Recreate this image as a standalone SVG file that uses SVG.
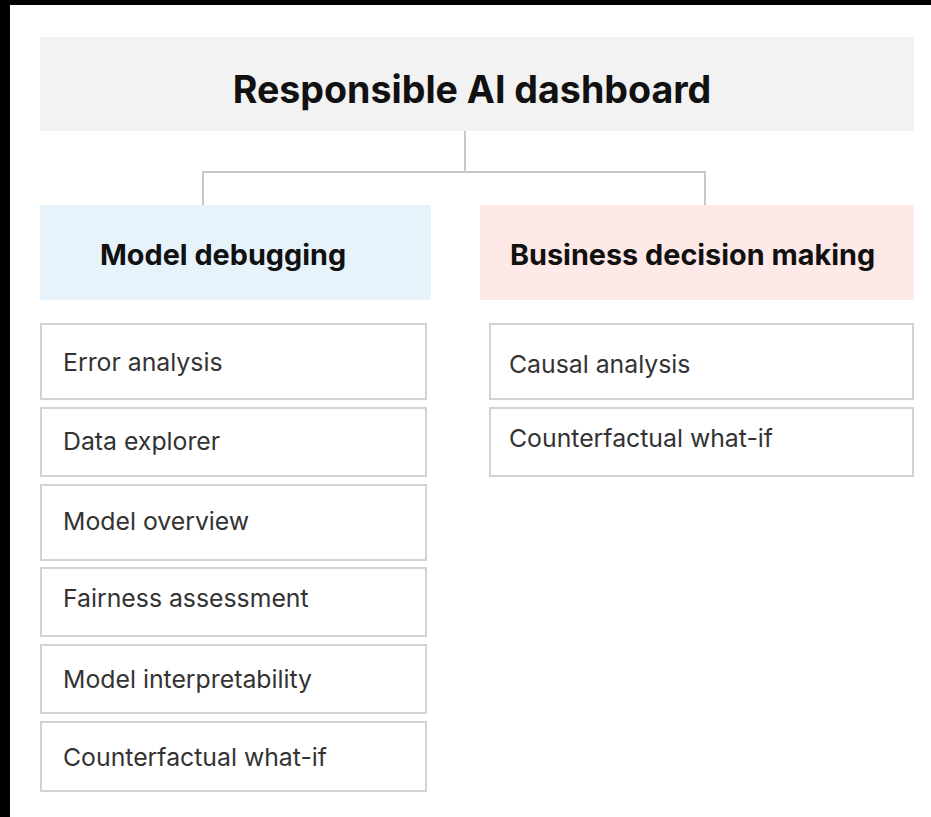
<svg xmlns="http://www.w3.org/2000/svg" width="931" height="817" viewBox="0 0 931 817">
<style>
.title{font-family:Inter,"Liberation Sans",sans-serif;font-weight:700;fill:#111;}
.item rect{fill:#fff;stroke:#d2d2d2;stroke-width:2;}
.item text{font-family:Inter,"Liberation Sans",sans-serif;font-size:24.8px;fill:#333;}
.conn{fill:none;stroke:#c8c8c8;stroke-width:2;}
</style>
<rect x="0" y="0" width="931" height="817" fill="#fff"/>
<rect x="0" y="0" width="931" height="5" fill="#000"/>
<rect x="0" y="0" width="10" height="817" fill="#000"/>
<g id="connectors">
<path class="conn" d="M465 131 V172 M203 205 V172 H705 V205"/>
</g>
<g id="root">
<rect x="40" y="37" width="874" height="94" fill="#f2f2f2"/>
<text class="title" x="472" y="103" font-size="37.6" text-anchor="middle">Responsible AI dashboard</text>
</g>
<g id="model-debugging">
<rect x="40" y="205" width="391" height="95" fill="#e6f3fb"/>
<text class="title" x="100" y="265" font-size="28.8">Model debugging</text>
</g>
<g id="business-decision-making">
<rect x="480" y="205" width="434" height="95" fill="#fde9e7"/>
<text class="title" x="510" y="265" font-size="28.8">Business decision making</text>
</g>
<g id="error-analysis" class="item"><rect x="41" y="324" width="385" height="75"/><text x="63" y="371">Error analysis</text></g>
<g id="data-explorer" class="item"><rect x="41" y="408" width="385" height="68"/><text x="63" y="450">Data explorer</text></g>
<g id="model-overview" class="item"><rect x="41" y="485" width="385" height="75"/><text x="63" y="530">Model overview</text></g>
<g id="fairness-assessment" class="item"><rect x="41" y="568" width="385" height="68"/><text x="63" y="607">Fairness assessment</text></g>
<g id="model-interpretability" class="item"><rect x="41" y="645" width="385" height="68"/><text x="63" y="688">Model interpretability</text></g>
<g id="counterfactual-left" class="item"><rect x="41" y="722" width="385" height="69"/><text x="63" y="766">Counterfactual what-if</text></g>
<g id="causal-analysis" class="item"><rect x="490" y="324" width="423" height="75"/><text x="509" y="373">Causal analysis</text></g>
<g id="counterfactual-right" class="item"><rect x="490" y="408" width="423" height="68"/><text x="509" y="447">Counterfactual what-if</text></g>
</svg>
